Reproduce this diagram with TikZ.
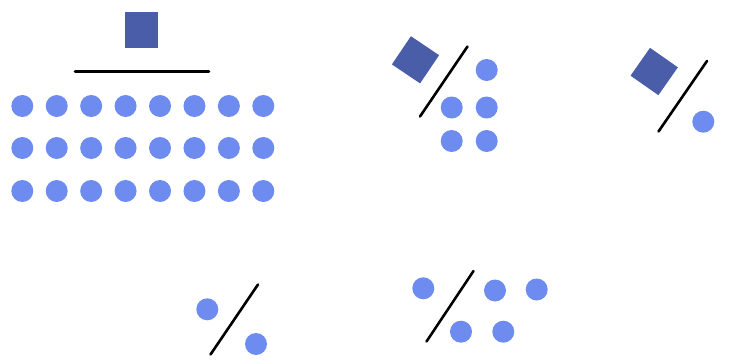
\documentclass[tikz,border=0pt]{standalone}
\definecolor{dotblue}{RGB}{110,140,240}
\definecolor{sqblue}{RGB}{74,93,168}
\tikzset{
  dotc/.style={circle,fill=dotblue,draw=none,minimum size=22pt,inner sep=0pt},
  sqbox/.style={fill=sqblue,draw=none,inner sep=0pt},
  bar/.style={line width=2.6pt,black,line cap=round}
}
\begin{document}
\begin{tikzpicture}[x=1pt,y=-1pt]
\useasboundingbox (0,0) rectangle (740,364);
% group 1: square over a line, 3x8 dots
\node[sqbox,minimum width=33pt,minimum height=36pt] (sq1) at (141.5,29.5) {};
\coordinate (l1a) at (75,71.5);
\coordinate (l1b) at (209,71.5);
\draw[bar] (l1a) -- (l1b);
\foreach \r/\y in {1/106, 2/148, 3/191}{
  \foreach \c in {0,...,7}{
    \node[dotc] (g1-\r-\c) at ({22.3+34.43*\c},\y) {};
  }
}
% group 2
\node[sqbox,minimum size=34pt,rotate=-34] (sq2) at (415.5,59.8) {};
\coordinate (l2a) at (420,116.5);
\coordinate (l2b) at (467.5,46.5);
\draw[bar] (l2a) -- (l2b);
\node[dotc] (g2a) at (486.7,70) {};
\node[dotc] (g2b) at (451.7,107.5) {};
\node[dotc] (g2c) at (486.7,107.5) {};
\node[dotc] (g2d) at (451.7,141) {};
\node[dotc] (g2e) at (486.7,141) {};
% group 3
\node[sqbox,minimum size=34pt,rotate=-35] (sq3) at (654.2,71.5) {};
\coordinate (l3a) at (658.5,131.5);
\coordinate (l3b) at (707,61);
\draw[bar] (l3a) -- (l3b);
\node[dotc] (g3a) at (703.3,121.7) {};
% group 4
\node[dotc] (g4a) at (207.3,309.3) {};
\node[dotc] (g4b) at (256,344) {};
\coordinate (l4a) at (210.5,354.5);
\coordinate (l4b) at (258,284.5);
\draw[bar] (l4a) -- (l4b);
% group 5
\node[dotc] (g5a) at (423.3,288.3) {};
\node[dotc] (g5b) at (495,290.5) {};
\node[dotc] (g5c) at (536.7,289.5) {};
\node[dotc] (g5d) at (461,331.7) {};
\node[dotc] (g5e) at (503.3,331.7) {};
\coordinate (l5a) at (426.5,341.5);
\coordinate (l5b) at (473.5,271);
\draw[bar] (l5a) -- (l5b);
\end{tikzpicture}
\end{document}
